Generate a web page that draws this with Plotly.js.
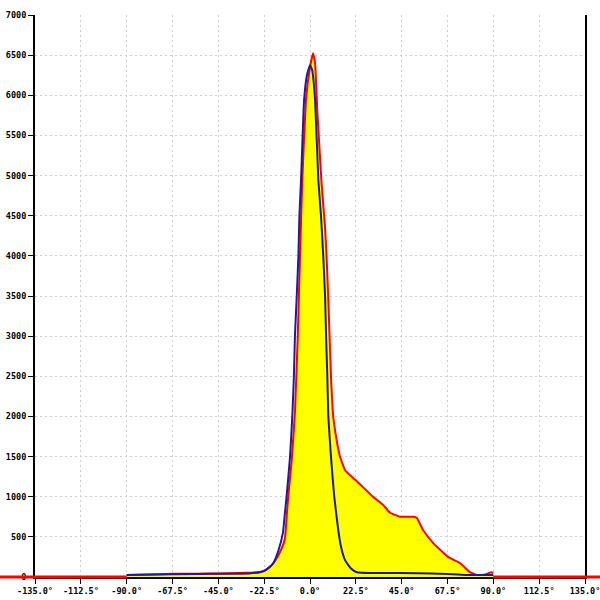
<!DOCTYPE html>
<html>
<head>
<meta charset="utf-8">
<script src="https://cdn.plot.ly/plotly-3.0.1.min.js"></script>
<style>html,body{margin:0;padding:0;background:#fff}#chart{width:600px;height:600px}</style>
</head>
<body>
<div id="chart"></div>
<script>
// Filled (red outline, yellow fill) series
const redX = [-90, -80, -67.5, -55, -45, -35, -28, -24, -22, -20, -18, -16, -14, -12.3, -11.6, -10.7, -9, -7.4, -6, -4.9, -3.8, -2, 0, 1.5, 2.5, 3.6, 5.7, 7.4, 8.2, 9, 9.6, 10.3, 11.4, 13.1, 14.7, 17.2, 21.3, 23.5, 30.9, 35.8, 39.3, 44.2, 50.6, 52.5, 55.5, 60.4, 67.7, 73.6, 78.5, 82, 86, 89, 90];
const redY = [25, 30, 40, 40, 45, 50, 55, 65, 80, 120, 170, 250, 350, 480, 700, 1000, 1450, 2050, 3000, 4000, 4944, 5940, 6350, 6525, 6400, 5800, 4900, 4350, 3950, 3450, 3000, 2500, 2000, 1700, 1500, 1330, 1230, 1180, 1000, 900, 800, 750, 750, 735, 585, 425, 250, 175, 60, 25, 30, 60, 50];
// Blue series
const blueX = [-90, -67.5, -45, -30, -24.5, -22, -20, -18, -15.5, -13.3, -12.3, -11.5, -9.8, -8.7, -7.9, -7.4, -6.5, -5.7, -5.2, -4.4, -2.9, -1.5, 0, 1, 2.5, 4.1, 5.4, 6.5, 7.4, 7.9, 8.5, 9, 10.3, 11.9, 13.9, 15.2, 17.2, 20, 23, 30, 45, 60, 64, 70, 77, 90];
const blueY = [25, 35, 40, 45, 60, 85, 120, 175, 330, 550, 800, 1000, 1500, 2000, 2500, 3000, 3500, 4000, 4500, 4944, 5940, 6250, 6375, 6320, 5940, 4944, 4500, 4000, 3500, 3000, 2500, 2000, 1500, 1000, 580, 380, 210, 110, 60, 50, 50, 45, 40, 35, 25, 25];
// Axis ticks
const xTickVals = [-135, -112.5, -90, -67.5, -45, -22.5, 0, 22.5, 45, 67.5, 90, 112.5, 135];
const xTickText = ["-135.0°", "-112.5°", "-90.0°", "-67.5°", "-45.0°", "-22.5°", "0.0°", "22.5°", "45.0°", "67.5°", "90.0°", "112.5°", "135.0°"];
const yTickVals = [0, 500, 1000, 1500, 2000, 2500, 3000, 3500, 4000, 4500, 5000, 5500, 6000, 6500, 7000];
const xRange = [-135, 135];
const yRange = [0, 7000];

const toPaper = v => (v - xRange[0]) / (xRange[1] - xRange[0]);
const font = {family: "DejaVu Sans Mono", size: 8.5, color: "#000", weight: "bold"};

const traces = [
  {x: redX, y: redY, type: "scatter", mode: "lines", fill: "tozeroy",
   fillcolor: "#ffff00", line: {color: "#ff0000", width: 2, shape: "spline", smoothing: 0.3}, hoverinfo: "none"},
  {x: blueX, y: blueY, type: "scatter", mode: "lines",
   line: {color: "#1a1aaa", width: 2, shape: "spline", smoothing: 0.4}, hoverinfo: "none"}
];

const layout = {
  width: 600, height: 600,
  margin: {l: 35, r: 15, t: 15, b: 23},
  paper_bgcolor: "#fff", plot_bgcolor: "#fff",
  showlegend: false,
  font: font,
  xaxis: {range: xRange, tickvals: xTickVals, ticktext: xTickText,
          showgrid: true, gridcolor: "#cfcfcf", griddash: "2px,3px", gridwidth: 1,
          zeroline: false, showline: true, linecolor: "#000", linewidth: 2,
          ticks: "outside", ticklen: 5, tickcolor: "#000", tickwidth: 1,
          ticklabeloverflow: "allow",
          tickfont: font, fixedrange: true},
  yaxis: {range: yRange, tickvals: yTickVals,
          showgrid: true, gridcolor: "#cfcfcf", griddash: "2px,3px", gridwidth: 1,
          zeroline: false, showline: true, mirror: true, linecolor: "#000", linewidth: 2,
          ticks: "outside", ticklen: 5, tickcolor: "#000", tickwidth: 1,
          ticklabeloverflow: "allow",
          tickfont: font, fixedrange: true},
  shapes: [
    {type: "line", xref: "paper", yref: "paper", x0: -0.1, x1: toPaper(redX[0]), y0: 0, y1: 0,
     line: {color: "#ff0000", width: 3}},
    {type: "line", xref: "paper", yref: "paper", x0: toPaper(redX[redX.length - 1]), x1: 1.1, y0: 0, y1: 0,
     line: {color: "#ff0000", width: 3}}
  ]
};

Plotly.newPlot("chart", traces, layout, {staticPlot: true, displayModeBar: false});
</script>
</body>
</html>
